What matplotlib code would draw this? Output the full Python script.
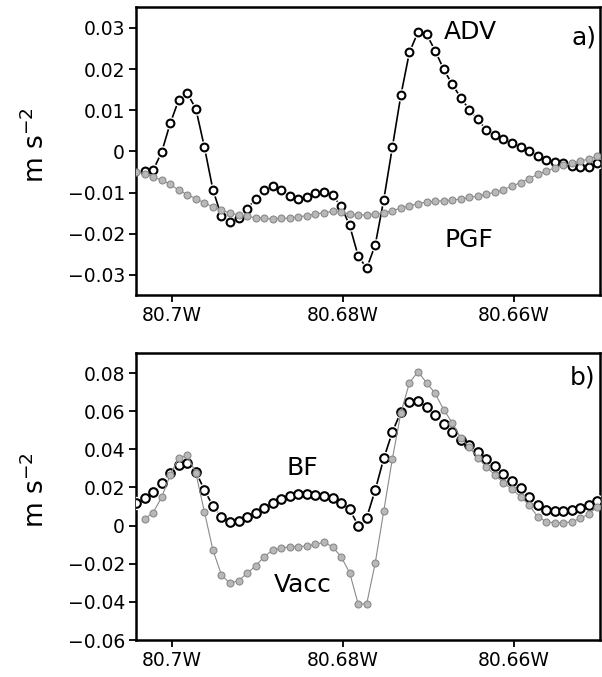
import numpy as np
import matplotlib
matplotlib.use("Agg")
import matplotlib.pyplot as plt
from matplotlib.ticker import FixedLocator, FixedFormatter

plt.rcParams['font.family'] = ['DejaVu Sans']
plt.rcParams['mathtext.default'] = 'regular'

# longitude of each sample along the transect (deg, negative = West)
lon = [-80.7042, -80.7032, -80.7022, -80.7012, -80.7002, -80.6992, -80.6982, -80.6972,
       -80.6962, -80.6952, -80.6942, -80.6932, -80.6922, -80.6912, -80.6902, -80.6892,
       -80.6882, -80.6872, -80.6862, -80.6852, -80.6842, -80.6832, -80.6822, -80.6812,
       -80.6802, -80.6792, -80.6782, -80.6772, -80.6762, -80.6752, -80.6742, -80.6732,
       -80.6722, -80.6712, -80.6702, -80.6692, -80.6682, -80.6672, -80.6662, -80.6652,
       -80.6642, -80.6632, -80.6622, -80.6612, -80.6602, -80.6592, -80.6582, -80.6572,
       -80.6562, -80.6552, -80.6542, -80.6532, -80.6522, -80.6512, -80.6502]

# panel a) (starts at second sample)
adv = [-0.0048, -0.0046, -0.0002, 0.0068, 0.0125, 0.0141, 0.0104, 0.0011,
       -0.0093, -0.0158, -0.0172, -0.0162, -0.0140, -0.0115, -0.0093, -0.0085,
       -0.0094, -0.0109, -0.0115, -0.0110, -0.0101, -0.0099, -0.0107, -0.0133,
       -0.0180, -0.0254, -0.0284, -0.0227, -0.0117, 0.0010, 0.0137, 0.0241,
       0.0290, 0.0285, 0.0245, 0.0200, 0.0163, 0.0131, 0.0101, 0.0078,
       0.0052, 0.0041, 0.0031, 0.0021, 0.0011, 0.0001, -0.0011, -0.0021,
       -0.0026, -0.0028, -0.0036, -0.0037, -0.0037, -0.0028]
pgf = [-0.0050, -0.0054, -0.0062, -0.0070, -0.0080, -0.0094, -0.0105, -0.0115,
       -0.0125, -0.0135, -0.0143, -0.0150, -0.0154, -0.0158, -0.0161, -0.0163,
       -0.0164, -0.0163, -0.0162, -0.0159, -0.0156, -0.0152, -0.0149, -0.0146,
       -0.0147, -0.0152, -0.0155, -0.0154, -0.0152, -0.0150, -0.0144, -0.0138,
       -0.0132, -0.0127, -0.0123, -0.0121, -0.0120, -0.0118, -0.0116, -0.0112,
       -0.0109, -0.0104, -0.0099, -0.0093, -0.0084, -0.0076, -0.0066, -0.0056,
       -0.0048, -0.0040, -0.0034, -0.0029, -0.0024, -0.0018, -0.0011]

# panel b)
bf = [0.0120, 0.0143, 0.0175, 0.0222, 0.0277, 0.0318, 0.0330, 0.0283,
      0.0187, 0.0103, 0.0044, 0.0020, 0.0026, 0.0047, 0.0068, 0.0091,
      0.0117, 0.0138, 0.0157, 0.0164, 0.0164, 0.0160, 0.0157, 0.0143,
      0.0120, 0.0085, 0.0000, 0.0042, 0.0187, 0.0353, 0.0490, 0.0597,
      0.0650, 0.0654, 0.0620, 0.0578, 0.0535, 0.0492, 0.0451, 0.0420,
      0.0385, 0.0348, 0.0311, 0.0271, 0.0235, 0.0196, 0.0152, 0.0108,
      0.0082, 0.0077, 0.0077, 0.0082, 0.0091, 0.0108, 0.0131]
vacc = [0.0035, 0.0068, 0.0148, 0.0266, 0.0355, 0.0368, 0.0276, 0.0073,
        -0.0128, -0.0259, -0.0303, -0.0289, -0.0250, -0.0212, -0.0163, -0.0128,
        -0.0119, -0.0111, -0.0111, -0.0107, -0.0098, -0.0088, -0.0111, -0.0163,
        -0.0247, -0.0411, -0.0410, -0.0195, 0.0078, 0.0350, 0.0592, 0.0749,
        0.0807, 0.0749, 0.0694, 0.0608, 0.0540, 0.0460, 0.0412, 0.0355,
        0.0308, 0.0265, 0.0225, 0.0190, 0.0152, 0.0108, 0.0047, 0.0020,
        0.0015, 0.0015, 0.0020, 0.0038, 0.0061, 0.0099]

xticks = [-80.70, -80.68, -80.66]
xticklabels = ["80.7W", "80.68W", "80.66W"]
yticks_a = [-0.03, -0.02, -0.01, 0, 0.01, 0.02, 0.03]
yticklabels_a = ["\u22120.03", "\u22120.02", "\u22120.01", "0", "0.01", "0.02", "0.03"]
yticks_b = [-0.06, -0.04, -0.02, 0, 0.02, 0.04, 0.06, 0.08]
yticklabels_b = ["\u22120.06", "\u22120.04", "\u22120.02", "0", "0.02", "0.04", "0.06", "0.08"]

W, H = 602, 677
fig = plt.figure(figsize=(W / 100, H / 100), dpi=100)
ax1 = fig.add_axes([136 / W, 1 - 295 / H, 464 / W, 288 / H])
ax2 = fig.add_axes([136 / W, 1 - 640 / H, 464 / W, 287 / H])

gray_face = '#b8b8b8'
gray_edge = '#8a8a8a'


def open_circles(ax, x, y, ms):
    # black line with small gaps around white open circles
    ax.plot(x, y, color='black', lw=1.2, zorder=2)
    ax.plot(x, y, ls='none', marker='o', ms=ms + 3.4, mfc='white', mec='white', mew=0, zorder=3)
    ax.plot(x, y, ls='none', marker='o', ms=ms, mfc='white', mec='black', mew=1.5, zorder=4)


def gray_dots(ax, x, y, lw):
    ax.plot(x, y, color='#8a8a8a', lw=lw, zorder=5)
    ax.plot(x, y, ls='none', marker='o', ms=5.0, mfc=gray_face, mec=gray_edge, mew=0.8, zorder=6)


open_circles(ax1, lon[1:], adv, 5.6)
gray_dots(ax1, lon, pgf, 0.8)

open_circles(ax2, lon, bf, 6.2)
gray_dots(ax2, lon[1:], vacc, 0.8)

ax1.set_ylim(-0.0349, 0.0351)
ax2.set_ylim(-0.06, 0.0905)

for ax, yt, ytl in [(ax1, yticks_a, yticklabels_a), (ax2, yticks_b, yticklabels_b)]:
    ax.set_xlim(-80.7042, -80.6499)
    ax.xaxis.set_major_locator(FixedLocator(xticks))
    ax.xaxis.set_major_formatter(FixedFormatter(xticklabels))
    ax.yaxis.set_major_locator(FixedLocator(yt))
    ax.yaxis.set_major_formatter(FixedFormatter(ytl))
    ax.tick_params(direction='out', length=5, width=1.3, labelsize=13.5, pad=3, colors='black')
    for s in ax.spines.values():
        s.set_linewidth(1.8)

txt = dict(fontsize=18, ha='center', va='center')
ax1.text(0.720, 0.913, "ADV", transform=ax1.transAxes, **txt)
ax1.text(0.718, 0.191, "PGF", transform=ax1.transAxes, **txt)
ax1.text(0.966, 0.895, "a)", transform=ax1.transAxes, **txt)
ax2.text(0.358, 0.599, "BF", transform=ax2.transAxes, **txt)
ax2.text(0.360, 0.192, "Vacc", transform=ax2.transAxes, **txt)
ax2.text(0.962, 0.913, "b)", transform=ax2.transAxes, **txt)

fig.text(36 / W, 1 - 145 / H, "m s$^{-2}$", rotation=90, fontsize=19, ha='center', va='center')
fig.text(36 / W, 1 - 490 / H, "m s$^{-2}$", rotation=90, fontsize=19, ha='center', va='center')

fig.savefig("out.png", dpi=100)
